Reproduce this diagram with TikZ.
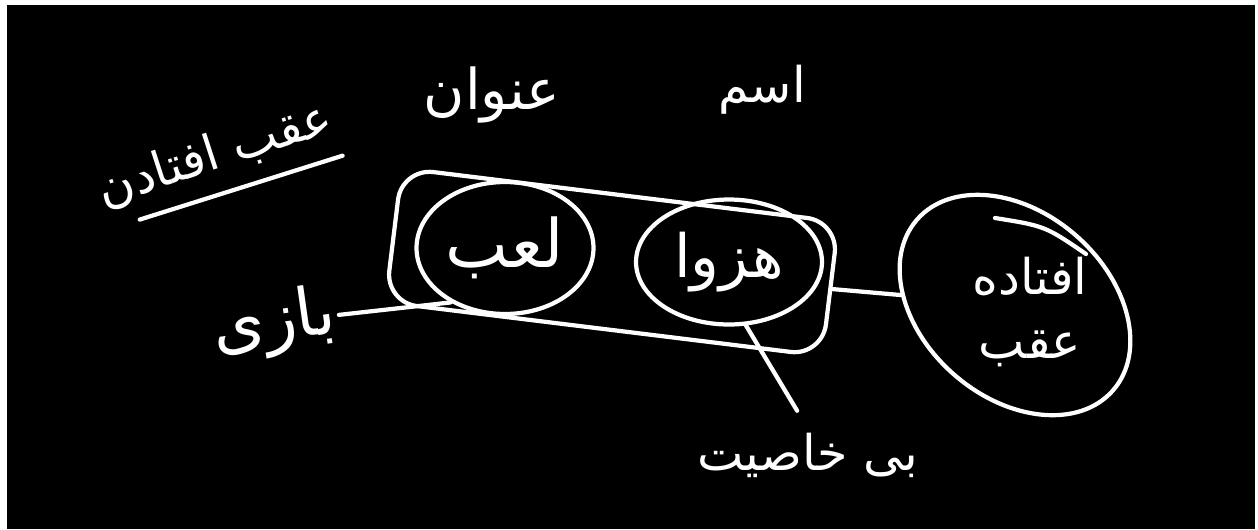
\documentclass[tikz,border=0pt]{standalone}
\usepackage{fontspec}
\newfontfamily\arabicfont[Script=Arabic]{DejaVu Sans}
\TeXXeTstate=1
\usetikzlibrary{shapes.geometric,positioning,calc}
\tikzset{chalk/.style={draw=white,line width=2.4pt,line cap=round,line join=round},
 word/.style={text=white,font=\arabicfont\fontsize{28}{36}\selectfont,inner sep=2pt,align=center},
 bigword/.style={word,font=\arabicfont\fontsize{38}{44}\selectfont},
 blob/.style={chalk,ellipse,inner sep=0pt}}
\newcommand{\fa}[1]{\beginR #1\endR}

\begin{document}
\begin{tikzpicture}[x=0.02cm,y=-0.02cm]
\fill[white] (0,0) rectangle (1258,529);
\fill[black] (7,5) rectangle (1255,529);
\useasboundingbox (0,0) rectangle (1258,529);
% the group of two words
\node[chalk,rectangle,rounded corners=18pt,minimum width=8.8cm,minimum height=2.7cm,rotate=-7] (group) at (612,262) {};
\node[blob,bigword,minimum width=3.48cm,minimum height=2.64cm] (laab) at (505,248) {\fa{لعب}};
\node[blob,bigword,font=\arabicfont\fontsize{34}{40}\selectfont,minimum width=3.72cm,minimum height=2.5cm] (hozowa) at (729,262) {\fa{هزوا}};
\node[blob,minimum width=5.2cm,minimum height=3.7cm,rotate=-41] (oqab) at (1015,305) {};
\node[word] (oqabtext) at (1030,312) {\fa{افتاده}\\\fa{عقب}};
% labels
\node[word,rotate=18] (title) at (215,155) {\fa{عقب افتادن}};
\node[word,font=\arabicfont\fontsize{32}{36}\selectfont] (onvan) at (492,95) {\fa{عنوان}};
\node[word] (esm) at (762,90) {\fa{اسم}};
\node[bigword,rotate=8] (bazi) at (274,324) {\fa{بازی}};
\node[word] (bikhasiat) at (808,455) {\fa{بی خاصیت}};
% connectors
\draw[chalk] ($(title.south west)!0.15!(title.south east)+(0,12)$) -- ($(title.south east)+(0,14)$);
\draw[chalk] (laab.225) -- (bazi.east);
\draw[chalk] (group.east) -- (oqab);
\draw[chalk,shorten >=12pt] (hozowa.-75) -- (bikhasiat.north);
\draw[chalk] (995,218) .. controls (1045,226) .. (1086,254);
\end{tikzpicture}
\end{document}
